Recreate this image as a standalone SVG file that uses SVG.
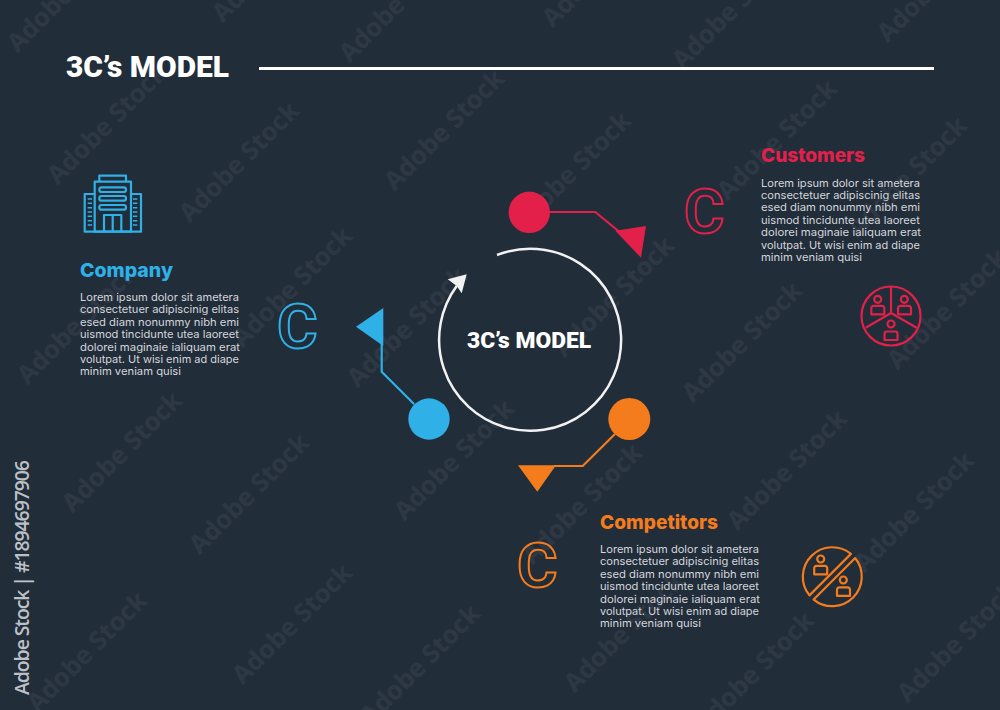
<svg xmlns="http://www.w3.org/2000/svg" width="1000" height="710" viewBox="0 0 1000 710">
<style>
.wm{font:700 25.500px "Open Sans","Liberation Sans",sans-serif;fill:#fff;opacity:.05;text-anchor:middle}
.title{font-family:Roboto,"Liberation Sans",sans-serif;font-weight:900;fill:#fff}
.h{font:800 19px Inter,"Liberation Sans",sans-serif}
.b{font:400 10.900px Inter,"Liberation Sans",sans-serif;fill:#d3d6da}
.c{font:700 62px Roboto,"Liberation Sans",sans-serif;fill:none;stroke-width:2}
.ic{fill:none;stroke-width:2.200;stroke-linejoin:round}
.blue{stroke:#2fb0e6}.red{stroke:#e2204a}.orange{stroke:#f47c1c}
.fb{fill:#2fb0e6}.fr{fill:#e2204a}.fo{fill:#f47c1c}
.conn{fill:none;stroke-width:2.200}
</style>
<defs>
<path id="person" d="M0 0m-6.500 8.500v-6q0-2.500 2.500-2.500h8q2.500 0 2.500 2.500v6z"/>
</defs>
<rect width="1000" height="710" fill="#222d3a"/>
<g id="watermark">
<text class="wm" transform="translate(113 130) rotate(-45)">Adobe Stock</text>
<text class="wm" transform="translate(245 168) rotate(-45)">Adobe Stock</text>
<text class="wm" transform="translate(450 136) rotate(-45)">Adobe Stock</text>
<text class="wm" transform="translate(577 178) rotate(-45)">Adobe Stock</text>
<text class="wm" transform="translate(783 146) rotate(-45)">Adobe Stock</text>
<text class="wm" transform="translate(913 183) rotate(-45)">Adobe Stock</text>
<text class="wm" transform="translate(83 330) rotate(-45)">Adobe Stock</text>
<text class="wm" transform="translate(298 293) rotate(-45)">Adobe Stock</text>
<text class="wm" transform="translate(413 333) rotate(-45)">Adobe Stock</text>
<text class="wm" transform="translate(620 303) rotate(-45)">Adobe Stock</text>
<text class="wm" transform="translate(748 348) rotate(-45)">Adobe Stock</text>
<text class="wm" transform="translate(953 315) rotate(-45)">Adobe Stock</text>
<text class="wm" transform="translate(128 458) rotate(-45)">Adobe Stock</text>
<text class="wm" transform="translate(255 500) rotate(-45)">Adobe Stock</text>
<text class="wm" transform="translate(460 466) rotate(-45)">Adobe Stock</text>
<text class="wm" transform="translate(588 510) rotate(-45)">Adobe Stock</text>
<text class="wm" transform="translate(793 476) rotate(-45)">Adobe Stock</text>
<text class="wm" transform="translate(920 518) rotate(-45)">Adobe Stock</text>
<text class="wm" transform="translate(93 658) rotate(-45)">Adobe Stock</text>
<text class="wm" transform="translate(298 630) rotate(-45)">Adobe Stock</text>
<text class="wm" transform="translate(426 671) rotate(-45)">Adobe Stock</text>
<text class="wm" transform="translate(630 638) rotate(-45)">Adobe Stock</text>
<text class="wm" transform="translate(760 678) rotate(-45)">Adobe Stock</text>
<text class="wm" transform="translate(963 648) rotate(-45)">Adobe Stock</text>
<text class="wm" transform="translate(73 -2) rotate(-45)">Adobe Stock</text>
<text class="wm" transform="translate(278 -32) rotate(-45)">Adobe Stock</text>
<text class="wm" transform="translate(405 8) rotate(-45)">Adobe Stock</text>
<text class="wm" transform="translate(608 -27) rotate(-45)">Adobe Stock</text>
<text class="wm" transform="translate(738 15) rotate(-45)">Adobe Stock</text>
<text class="wm" transform="translate(943 -12) rotate(-45)">Adobe Stock</text>
<text transform="translate(29 695) rotate(-90)" font-family="'Open Sans','Liberation Sans',sans-serif" font-size="19.500" font-weight="600" fill="#bcc1c7" textLength="235" lengthAdjust="spacing">Adobe Stock | #1894697906</text>
</g>
<g id="header">
<text class="title" x="66" y="77" font-size="29" textLength="163" lengthAdjust="spacingAndGlyphs">3C’s MODEL</text>
<line x1="259" y1="68.500" x2="934" y2="68.500" stroke="#fff" stroke-width="3"/>
</g>
<g id="connectors">
<path class="conn red" d="M549 212H595.300L622 234"/>
<path class="conn blue" d="M414 404L381.700 371.700V344"/>
<path class="conn orange" d="M615 434L582.700 466H554"/>
<path d="M497 255A91 91 0 1 1 456.700 286" fill="none" stroke="#f2f2f2" stroke-width="2.500"/>
<polygon points="466.700,274.300 447.700,279.300 456.700,286 461.700,293.300" fill="#f2f2f2"/>
</g>
<g id="center"><text class="title" x="467" y="348" font-size="22.500" textLength="124" lengthAdjust="spacingAndGlyphs">3C’s MODEL</text></g>
<g id="node-company">
<circle class="fb" cx="429" cy="419" r="20.700"/>
<polygon class="fb" points="356,326.700 383.300,308 383.300,346"/>
<text class="c blue" x="277" y="348">C</text>
<text class="h fb" x="80" y="277" textLength="93" lengthAdjust="spacingAndGlyphs">Company</text>
<text class="b" x="80" y="301" textLength="159" lengthAdjust="spacingAndGlyphs">Lorem ipsum dolor sit ametera</text>
<text class="b" x="80" y="313.400" textLength="159" lengthAdjust="spacingAndGlyphs">consectetuer adipiscinig elitas</text>
<text class="b" x="80" y="325.800" textLength="159" lengthAdjust="spacingAndGlyphs">esed diam nonummy nibh emi</text>
<text class="b" x="80" y="338.200" textLength="159" lengthAdjust="spacingAndGlyphs">uismod tincidunte utea laoreet</text>
<text class="b" x="80" y="350.600" textLength="160" lengthAdjust="spacingAndGlyphs">dolorei maginaie ialiquam erat</text>
<text class="b" x="80" y="363" textLength="159" lengthAdjust="spacingAndGlyphs">volutpat. Ut wisi enim ad diape</text>
<text class="b" x="80" y="375.400" textLength="101" lengthAdjust="spacingAndGlyphs">minim veniam quisi</text>
<g class="ic blue">
<rect x="94.700" y="181.700" width="36.300" height="50"/>
<path d="M99.300 181.700V175.700H126V181.700M94.700 194H84.700V231.700H141V194H131"/>
<rect x="99.300" y="187.300" width="26.700" height="4.700" rx="2.300"/>
<rect x="99.300" y="196" width="26.700" height="4.700" rx="2.300"/>
<rect x="99.300" y="205" width="26.700" height="4.700" rx="2.300"/>
<path d="M104 231.700V215H121.300V231.700M112.700 215V231.700"/>
<path stroke-width="1.500" d="M87.700 199H92M87.700 203.300H92M87.700 207.700H92M87.700 212H92M87.700 216.300H92M87.700 220.700H92M87.700 225H92M133 199H137.300M133 203.300H137.300M133 207.700H137.300M133 212H137.300M133 216.300H137.300M133 220.700H137.300M133 225H137.300"/>
</g>
</g>
<g id="node-customers">
<circle class="fr" cx="529.300" cy="212.300" r="20.700"/>
<polygon class="fr" points="646,226 615.300,230.700 641,257.700"/>
<text class="c red" x="684" y="233">C</text>
<text class="h fr" x="761" y="162" textLength="104" lengthAdjust="spacingAndGlyphs">Customers</text>
<text class="b" x="761" y="186.500" textLength="159" lengthAdjust="spacingAndGlyphs">Lorem ipsum dolor sit ametera</text>
<text class="b" x="761" y="198.900" textLength="159" lengthAdjust="spacingAndGlyphs">consectetuer adipiscinig elitas</text>
<text class="b" x="761" y="211.300" textLength="159" lengthAdjust="spacingAndGlyphs">esed diam nonummy nibh emi</text>
<text class="b" x="761" y="223.700" textLength="159" lengthAdjust="spacingAndGlyphs">uismod tincidunte utea laoreet</text>
<text class="b" x="761" y="236.100" textLength="160" lengthAdjust="spacingAndGlyphs">dolorei maginaie ialiquam erat</text>
<text class="b" x="761" y="248.500" textLength="159" lengthAdjust="spacingAndGlyphs">volutpat. Ut wisi enim ad diape</text>
<text class="b" x="761" y="260.900" textLength="101" lengthAdjust="spacingAndGlyphs">minim veniam quisi</text>
<g class="ic red">
<circle cx="891" cy="316" r="29.500"/>
<path d="M891 287V313L865.700 327.700M891 313L916.700 327.700"/>
<circle cx="877.700" cy="299.300" r="3.500"/><use href="#person" x="877.800" y="305.800"/>
<circle cx="904.300" cy="299.300" r="3.500"/><use href="#person" x="904.500" y="305.800"/>
<circle cx="891" cy="324" r="3.500"/><use href="#person" x="891" y="331.500"/>
</g>
</g>
<g id="node-competitors">
<circle class="fo" cx="629.300" cy="419" r="21"/>
<polygon class="fo" points="518,465.300 556,465.300 537.300,491.700"/>
<text class="c orange" x="517" y="587">C</text>
<text class="h fo" x="600" y="529" textLength="118" lengthAdjust="spacingAndGlyphs">Competitors</text>
<text class="b" x="600" y="553" textLength="159" lengthAdjust="spacingAndGlyphs">Lorem ipsum dolor sit ametera</text>
<text class="b" x="600" y="565.400" textLength="159" lengthAdjust="spacingAndGlyphs">consectetuer adipiscinig elitas</text>
<text class="b" x="600" y="577.800" textLength="159" lengthAdjust="spacingAndGlyphs">esed diam nonummy nibh emi</text>
<text class="b" x="600" y="590.200" textLength="159" lengthAdjust="spacingAndGlyphs">uismod tincidunte utea laoreet</text>
<text class="b" x="600" y="602.600" textLength="160" lengthAdjust="spacingAndGlyphs">dolorei maginaie ialiquam erat</text>
<text class="b" x="600" y="615" textLength="159" lengthAdjust="spacingAndGlyphs">volutpat. Ut wisi enim ad diape</text>
<text class="b" x="600" y="627.400" textLength="101" lengthAdjust="spacingAndGlyphs">minim veniam quisi</text>
<g class="ic orange">
<path d="M809.450 595.350A29.500 29.500 0 0 1 850.950 553.850Z"/>
<path d="M855.150 558.050A29.500 29.500 0 0 1 813.650 599.550Z"/>
<circle cx="820.700" cy="559" r="3.500"/><use href="#person" x="820.700" y="565.800"/>
<circle cx="843.300" cy="580" r="3.500"/><use href="#person" x="843.500" y="587.300"/>
</g>
</g>
</svg>
